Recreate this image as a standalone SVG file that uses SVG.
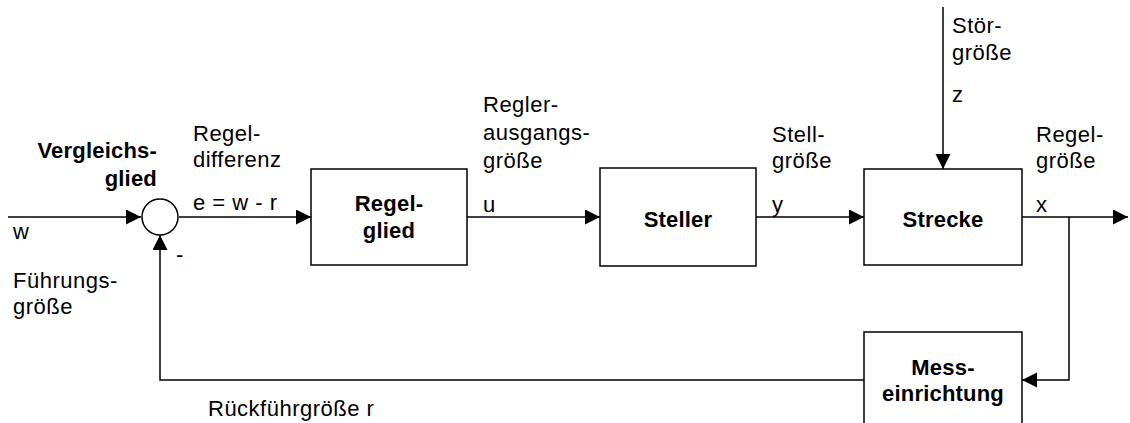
<svg xmlns="http://www.w3.org/2000/svg" width="1130" height="423" viewBox="0 0 1130 423">
<style>
text{font-family:"Liberation Sans",Arial,sans-serif;font-size:22px;letter-spacing:0.5px;fill:#000}
.b{font-weight:bold;text-anchor:middle;letter-spacing:0.2px}
.box{fill:#fff;stroke:#000;stroke-width:1.5}
.ln{fill:none;stroke:#000;stroke-width:1.5}
</style>
<defs>
<marker id="ah" markerUnits="userSpaceOnUse" markerWidth="16" markerHeight="16" refX="15" refY="7.5" orient="auto">
<path d="M0,0 L15,7.5 L0,15 z" fill="#000"/>
</marker>
</defs>
<rect width="1130" height="423" fill="#fff"/>
<g id="connectors">
<line class="ln" x1="8" y1="217" x2="141" y2="217" marker-end="url(#ah)"/>
<line class="ln" x1="179" y1="217" x2="311" y2="217" marker-end="url(#ah)"/>
<line class="ln" x1="467" y1="217" x2="600" y2="217" marker-end="url(#ah)"/>
<line class="ln" x1="756" y1="217" x2="864" y2="217" marker-end="url(#ah)"/>
<line class="ln" x1="1022" y1="217" x2="1128" y2="217" marker-end="url(#ah)"/>
<line class="ln" x1="943" y1="7" x2="943" y2="169" marker-end="url(#ah)"/>
<polyline class="ln" points="1069,217 1069,380 1022,380" marker-end="url(#ah)"/>
<polyline class="ln" points="864,380 160,380 160,235" marker-end="url(#ah)"/>
</g>
<g id="vergleichsglied">
<circle cx="160" cy="217" r="18" class="box"/>
<text x="157" y="158" style="font-weight:bold;text-anchor:end;letter-spacing:0.2px">Vergleichs-</text>
<text x="157" y="186" style="font-weight:bold;text-anchor:end;letter-spacing:0.2px">glied</text>
</g>
<g id="regelglied">
<rect class="box" x="311" y="169" width="156" height="96"/>
<text class="b" x="389" y="211">Regel-</text>
<text class="b" x="389" y="238">glied</text>
</g>
<g id="steller">
<rect class="box" x="600" y="168" width="156" height="98"/>
<text class="b" x="678" y="227">Steller</text>
</g>
<g id="strecke">
<rect class="box" x="864" y="169" width="158" height="96"/>
<text class="b" x="943" y="227">Strecke</text>
</g>
<g id="messeinrichtung">
<rect class="box" x="864" y="332" width="158" height="100"/>
<text class="b" x="943" y="375">Mess-</text>
<text class="b" x="943" y="401">einrichtung</text>
</g>
<g id="labels">
<text x="13" y="239">w</text>
<text x="13" y="288">Führungs-</text>
<text x="13" y="314">größe</text>
<text x="176" y="262">-</text>
<text x="193" y="141">Regel-</text>
<text x="193" y="167">differenz</text>
<text x="193" y="210">e = w - r</text>
<text x="483" y="112">Regler-</text>
<text x="483" y="140">ausgangs-</text>
<text x="483" y="168">größe</text>
<text x="483" y="212">u</text>
<text x="772" y="142">Stell-</text>
<text x="772" y="168">größe</text>
<text x="772" y="212">y</text>
<text x="952" y="33">Stör-</text>
<text x="952" y="60">größe</text>
<text x="952" y="102">z</text>
<text x="1036" y="142">Regel-</text>
<text x="1036" y="168">größe</text>
<text x="1036" y="212">x</text>
<text x="208" y="416">Rückführgröße r</text>
</g>
</svg>
